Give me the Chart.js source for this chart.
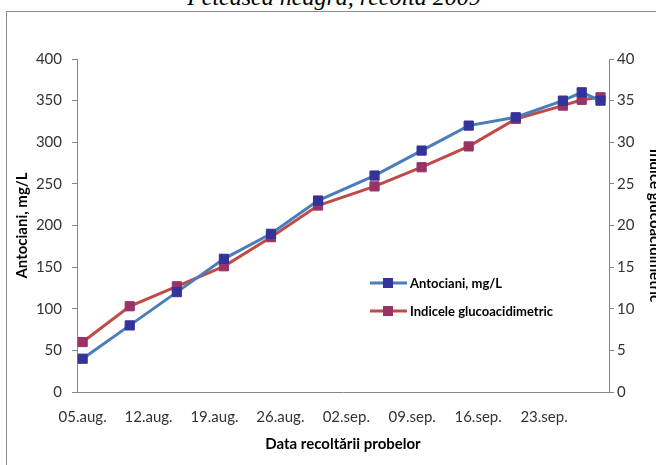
<!DOCTYPE html>
<html>
<head>
<meta charset="utf-8">
<title>Antociani si indicele glucoacidimetric</title>
<script src="https://cdn.jsdelivr.net/npm/chart.js@4/dist/chart.umd.min.js"></script>
<style>
  html, body { margin: 0; padding: 0; background: #fff; overflow: hidden; width: 656px; height: 465px; }
  #title { position: absolute; left: 0; top: -15px; width: 668px; text-align: center;
           font-family: "Liberation Serif", serif; font-style: italic; font-size: 24px; line-height: 24px; color: #000; }
  #frame { position: absolute; left: 6px; top: 11px; width: 720px; height: 520px; border: 1px solid #8c8c8c; }
  #wrap { position: absolute; left: 0; top: 0; width: 668px; height: 465px; }
</style>
</head>
<body>
<div id="title">Fetească neagră, recolta 2009</div>
<div id="frame"></div>
<div id="wrap"><canvas id="chart" width="668" height="465"></canvas></div>
<script>
var sampleDates = ['05.aug', '10.aug', '15.aug', '20.aug', '25.aug', '30.aug', '05.sep',
                   '10.sep', '15.sep', '20.sep', '25.sep', '27.sep', '29.sep'];
var antociani = [40, 80, 120, 160, 190, 230, 260, 290, 320, 330, 350, 360, 350];
var indiceGluco = [6.0, 10.3, 12.7, 15.1, 18.6, 22.4, 24.7, 27.0, 29.5, 32.8, 34.4, 35.1, 35.4];
var tickLabels = ['05.aug.', '12.aug.', '19.aug.', '26.aug.', '02.sep.', '09.sep.', '16.sep.', '23.sep.'];

// days counted from 05.aug
function dayIndex(s) {
  var parts = s.replace(/\.$/, '').split('.');
  var day = parseInt(parts[0], 10);
  return (parts[1] === 'sep' ? 31 : 0) + day - 5;
}

var tickDays = tickLabels.map(dayIndex);

function toPoints(values) {
  return values.map(function(v, i) { return { x: dayIndex(sampleDates[i]), y: v }; });
}

var AXIS = '#868686';
var FONT = 'Lato';

var insideLegend = {
  id: 'insideLegend',
  afterDraw: function(chart) {
    var ctx = chart.ctx;
    var x = 370, y0 = 283, gap = 28;
    chart.data.datasets.forEach(function(ds, i) {
      var y = y0 + i * gap;
      ctx.save();
      ctx.strokeStyle = ds.borderColor;
      ctx.lineWidth = 3;
      ctx.beginPath();
      ctx.moveTo(x, y);
      ctx.lineTo(x + 37, y);
      ctx.stroke();
      ctx.fillStyle = ds.pointBackgroundColor;
      ctx.fillRect(x + 13, y - 5, 10, 10);
      ctx.fillStyle = '#000';
      ctx.font = 'bold 13px ' + FONT;
      ctx.textBaseline = 'middle';
      ctx.fillText(ds.label, x + 40, y + 1);
      ctx.restore();
    });
  }
};

var chart = new Chart(document.getElementById('chart').getContext('2d'), {
  type: 'line',
  data: {
    datasets: [{
      label: 'Antociani, mg/L',
      data: toPoints(antociani),
      yAxisID: 'y',
      borderColor: '#4A7EBB',
      borderWidth: 3,
      pointStyle: 'rect',
      pointRadius: 6.5,
      pointBorderWidth: 1,
      pointBackgroundColor: '#333399',
      pointBorderColor: '#333399',
      tension: 0
    }, {
      label: 'Indicele glucoacidimetric',
      data: toPoints(indiceGluco),
      yAxisID: 'y2',
      borderColor: '#BE4B48',
      borderWidth: 3,
      pointStyle: 'rect',
      pointRadius: 6.5,
      pointBorderWidth: 1,
      pointBackgroundColor: '#993366',
      pointBorderColor: '#993366',
      tension: 0
    }]
  },
  options: {
    responsive: false,
    animation: false,
    devicePixelRatio: 1,
    layout: { padding: { left: 8, top: 59, right: 0, bottom: 0 } },
    plugins: { legend: { display: false }, tooltip: { enabled: false } },
    scales: {
      x: {
        type: 'linear',
        min: -0.6,
        max: 55.9,
        grid: { display: false },
        border: { display: true, color: AXIS, width: 1 },
        afterBuildTicks: function(scale) {
          scale.ticks = tickDays.map(function(d) { return { value: d }; });
        },
        afterFit: function(scale) { scale.height = 73; },
        ticks: {
          padding: 8,
          maxRotation: 0,
          autoSkip: false,
          color: '#333',
          font: { family: FONT, size: 15 },
          callback: function(v) { return tickLabels[tickDays.indexOf(v)]; }
        },
        title: {
          display: true,
          text: 'Data recoltării probelor',
          color: '#000',
          font: { family: FONT, size: 15, weight: 'bold' },
          padding: { top: 4, bottom: 12 }
        }
      },
      y: {
        position: 'left',
        min: 0,
        max: 400,
        grid: { display: true, drawOnChartArea: false, drawTicks: true, tickLength: 5, color: AXIS },
        border: { display: true, color: AXIS, width: 1 },
        afterFit: function(scale) { scale.width = 69; },
        ticks: { stepSize: 50, padding: 10, color: '#333', font: { family: FONT, size: 15 } },
        title: {
          display: true,
          text: 'Antociani, mg/L',
          color: '#000',
          font: { family: FONT, size: 15, weight: 'bold' },
          padding: { top: 5, bottom: 0 }
        }
      },
      y2: {
        position: 'right',
        min: 0,
        max: 40,
        grid: { display: true, drawOnChartArea: false, drawTicks: true, tickLength: 5, color: AXIS },
        border: { display: true, color: AXIS, width: 1 },
        afterFit: function(scale) { scale.width = 59; },
        ticks: { stepSize: 5, padding: 3, color: '#333', font: { family: FONT, size: 15 } },
        title: {
          display: true,
          text: 'Indice glucoacidimetric',
          color: '#000',
          font: { family: FONT, size: 15, weight: 'bold' },
          padding: { top: 4, bottom: 0 }
        }
      }
    }
  },
  plugins: [insideLegend]
});
</script>
</body>
</html>
